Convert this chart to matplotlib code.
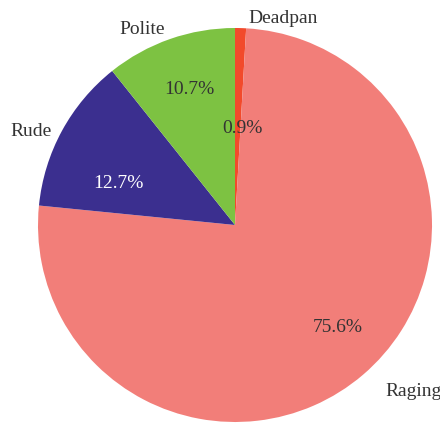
import matplotlib
matplotlib.use("Agg")
import matplotlib.pyplot as plt

labels = ["Deadpan", "Raging", "Rude", "Polite"]
shares = [0.9, 75.6, 12.7, 10.7]
colors = ["#F24A2B", "#F27E79", "#3B2F8F", "#7DC242"]

plt.rcParams["font.family"] = ["Liberation Serif", "DejaVu Serif"]

fig = plt.figure(figsize=(4.4, 4.25), dpi=100)
ax = fig.add_axes([38 / 440, 3 / 425, 394 / 440, 394 / 425])

pct_iter = iter(shares)
wedges, texts, autotexts = ax.pie(
    shares, labels=labels, colors=colors, startangle=90, counterclock=False,
    autopct=lambda p: "%.1f%%" % next(pct_iter), pctdistance=0.72, labeldistance=1.1,
    textprops=dict(fontsize=14, color="#333333"),
    wedgeprops=dict(linewidth=0),
)
ax.set_xlim(-1, 1)
ax.set_ylim(-1, 1)
ax.set_aspect("equal")

# label placement to match the reference
texts[0].set_position((0.066, 1.05))
texts[1].set_position((0.761, -0.843))
texts[2].set_position((-0.93, 0.477))
texts[3].set_position((-0.355, 0.99))

# nudge percentages toward the reference positions
autotexts[0].set_position((0.04, 0.49))
autotexts[1].set_position((0.52, -0.52))
autotexts[2].set_position((-0.59, 0.21))
autotexts[2].set_color("white")
autotexts[3].set_position((-0.23, 0.69))
for t in autotexts:
    t.set_fontsize(14)

fig.savefig("out.png")
